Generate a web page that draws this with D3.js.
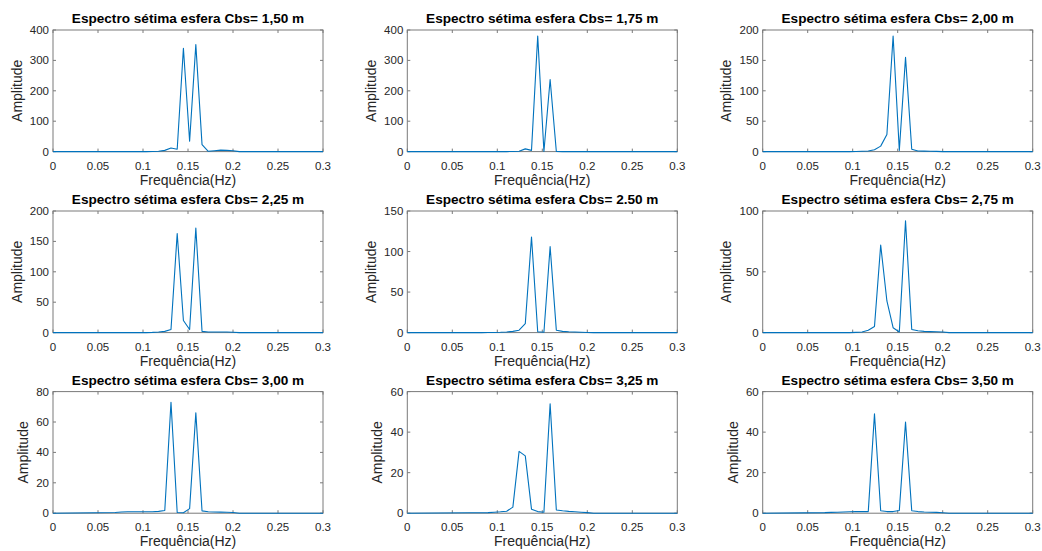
<!DOCTYPE html>
<html>
<head>
<meta charset="utf-8">
<script src="https://cdn.jsdelivr.net/npm/d3@7"></script>
<style>
  html, body { margin: 0; padding: 0; background: #fff; }
  svg { display: block; }
  text { font-family: "Liberation Sans", Arial, Helvetica, sans-serif; }
</style>
</head>
<body>
<svg id="fig" width="1042" height="551"></svg>
<script>
// Frequency samples (Hz) shared by all spectra
const freq = [0, 0.0690, 0.0759, 0.0828, 0.0897, 0.0966, 0.1035, 0.1104, 0.1173, 0.1242,
  0.1311, 0.1380, 0.1449, 0.1518, 0.1587, 0.1656, 0.1725, 0.1794, 0.1863, 0.1932,
  0.2001, 0.2070, 0.3];

// Spectral amplitude for each sphere spacing Cbs
const amp150 = [0, 0, 0, 0, 0, 0, 0, 0.5, 1, 4, 12, 8, 340, 34, 352, 23, 1, 3, 5, 4, 3, 0, 0];
const amp175 = [0, 0, 0, 0, 0, 0, 0, 0, 0.5, 1, 9, 4, 380, 0.5, 237, 0.5, 0, 0, 0, 0, 0, 0, 0];
const amp200 = [0, 0, 0, 0, 0, 0, 0.2, 0.5, 1, 3, 9, 28, 190, 2, 155, 4, 1, 0.8, 0.5, 0.3, 0, 0, 0];
const amp225 = [0, 0, 0, 0, 0, 0, 0, 0.3, 1, 2, 5, 163, 20, 5, 172, 2, 1, 1, 1, 1, 0.5, 0, 0];
const amp250 = [0, 0, 0, 0, 0.1, 0.2, 0.4, 0.8, 1.5, 3, 11, 118, 1, 0.5, 106, 3, 1.5, 1, 0.8, 0.5, 0.2, 0, 0];
const amp275 = [0, 0, 0, 0, 0, 0, 0.2, 0.5, 2, 5, 72, 26, 4, 0.5, 92, 2.5, 1.5, 1, 0.8, 0.7, 0.5, 0, 0];
const amp300 = [0, 0.5, 0.8, 1, 1, 1, 1, 1, 1.2, 1.8, 73, 0.5, 0.3, 3, 66, 1.5, 1, 0.8, 0.7, 0.6, 0.5, 0, 0];
const amp325 = [0, 0.2, 0.2, 0.2, 0.3, 0.5, 0.7, 1, 3, 30.5, 28.3, 2, 0.8, 0.5, 54, 1.6, 1.2, 0.9, 0.7, 0.5, 0.3, 0, 0];
const amp350 = [0, 0.3, 0.4, 0.5, 0.6, 0.7, 0.8, 0.8, 0.8, 49, 1.2, 0.8, 0.8, 1.3, 45, 1.2, 0.8, 0.6, 0.5, 0.4, 0.2, 0, 0];

const titles = [
  "Espectro sétima esfera Cbs= 1,50 m",
  "Espectro sétima esfera Cbs= 1,75 m",
  "Espectro sétima esfera Cbs= 2,00 m",
  "Espectro sétima esfera Cbs= 2,25 m",
  "Espectro sétima esfera Cbs= 2.50 m",
  "Espectro sétima esfera Cbs= 2,75 m",
  "Espectro sétima esfera Cbs= 3,00 m",
  "Espectro sétima esfera Cbs= 3,25 m",
  "Espectro sétima esfera Cbs= 3,50 m"
];
const yMax = [400, 400, 200, 200, 150, 100, 80, 60, 60];
const yStep = [100, 100, 50, 50, 50, 50, 20, 20, 20];
const xTicks = [0, 0.05, 0.1, 0.15, 0.2, 0.25, 0.3];
const xTickLabels = ["0", "0.05", "0.1", "0.15", "0.2", "0.25", "0.3"];
const xLabel = "Frequência(Hz)";
const yLabel = "Amplitude";

const series = [amp150, amp175, amp200, amp225, amp250, amp275, amp300, amp325, amp350];

// Grid layout of the 3x3 subplots
const colLeft = [53, 407.3, 762.7];
const rowTop = [30, 211, 391.6];
const axW = 270, axH = 121.6;
const tickLen = 3;
const axisColor = "#7a7a7a";
const textColor = "#262626";
const lineColor = "#0072BD";

const svg = d3.select("#fig");
svg.append("rect").attr("width", 1042).attr("height", 551).attr("fill", "#fff");

series.forEach((amp, i) => {
  const col = i % 3, row = Math.floor(i / 3);
  const left = colLeft[col], top = rowTop[row];
  const g = svg.append("g").attr("transform", `translate(${left},${top})`);

  const x = d3.scaleLinear().domain([0, 0.3]).range([0, axW]);
  const y = d3.scaleLinear().domain([0, yMax[i]]).range([axH, 0]);
  const yTicks = d3.range(0, yMax[i] + 1e-9, yStep[i]);

  // Box
  g.append("rect")
    .attr("x", 0).attr("y", 0).attr("width", axW).attr("height", axH)
    .attr("fill", "none").attr("stroke", axisColor).attr("stroke-width", 1);

  // Inward ticks on all four sides
  const tk = g.append("g").attr("stroke", axisColor).attr("stroke-width", 1);
  xTicks.forEach(t => {
    const px = x(t);
    tk.append("line").attr("x1", px).attr("x2", px).attr("y1", axH).attr("y2", axH - tickLen);
    tk.append("line").attr("x1", px).attr("x2", px).attr("y1", 0).attr("y2", tickLen);
  });
  yTicks.forEach(t => {
    const py = y(t);
    tk.append("line").attr("x1", 0).attr("x2", tickLen).attr("y1", py).attr("y2", py);
    tk.append("line").attr("x1", axW).attr("x2", axW - tickLen).attr("y1", py).attr("y2", py);
  });

  // X tick labels
  g.append("g").selectAll("text").data(xTicks).join("text")
    .attr("x", d => x(d)).attr("y", axH + 18)
    .attr("text-anchor", "middle")
    .attr("font-size", 11.5).attr("fill", textColor)
    .text((d, j) => xTickLabels[j]);

  // Y tick labels
  const yl = g.append("g").selectAll("text").data(yTicks).join("text")
    .attr("x", -4).attr("y", d => y(d)).attr("dy", "0.35em")
    .attr("text-anchor", "end")
    .attr("font-size", 11.5).attr("fill", textColor)
    .text(d => d3.format("d")(d));
  let maxW = 0;
  yl.each(function () { maxW = Math.max(maxW, this.getComputedTextLength()); });

  // Axis labels
  g.append("text")
    .attr("x", axW / 2).attr("y", axH + 33)
    .attr("text-anchor", "middle").attr("font-size", 14).attr("fill", textColor)
    .text(xLabel);
  g.append("text")
    .attr("transform", `translate(${-4 - maxW - 13},${axH / 2}) rotate(-90)`)
    .attr("dy", "0.35em")
    .attr("text-anchor", "middle").attr("font-size", 14).attr("fill", textColor)
    .text(yLabel);

  // Title
  g.append("text")
    .attr("x", axW / 2).attr("y", -7)
    .attr("text-anchor", "middle").attr("font-size", 13.6).attr("font-weight", "bold")
    .attr("fill", "#000")
    .text(titles[i]);

  // Spectrum line
  const line = d3.line().x((d, j) => x(freq[j])).y(d => y(d));
  g.append("path")
    .datum(amp)
    .attr("d", line)
    .attr("fill", "none").attr("stroke", lineColor).attr("stroke-width", 1.1)
    .attr("stroke-linejoin", "round");
});
</script>
</body>
</html>
